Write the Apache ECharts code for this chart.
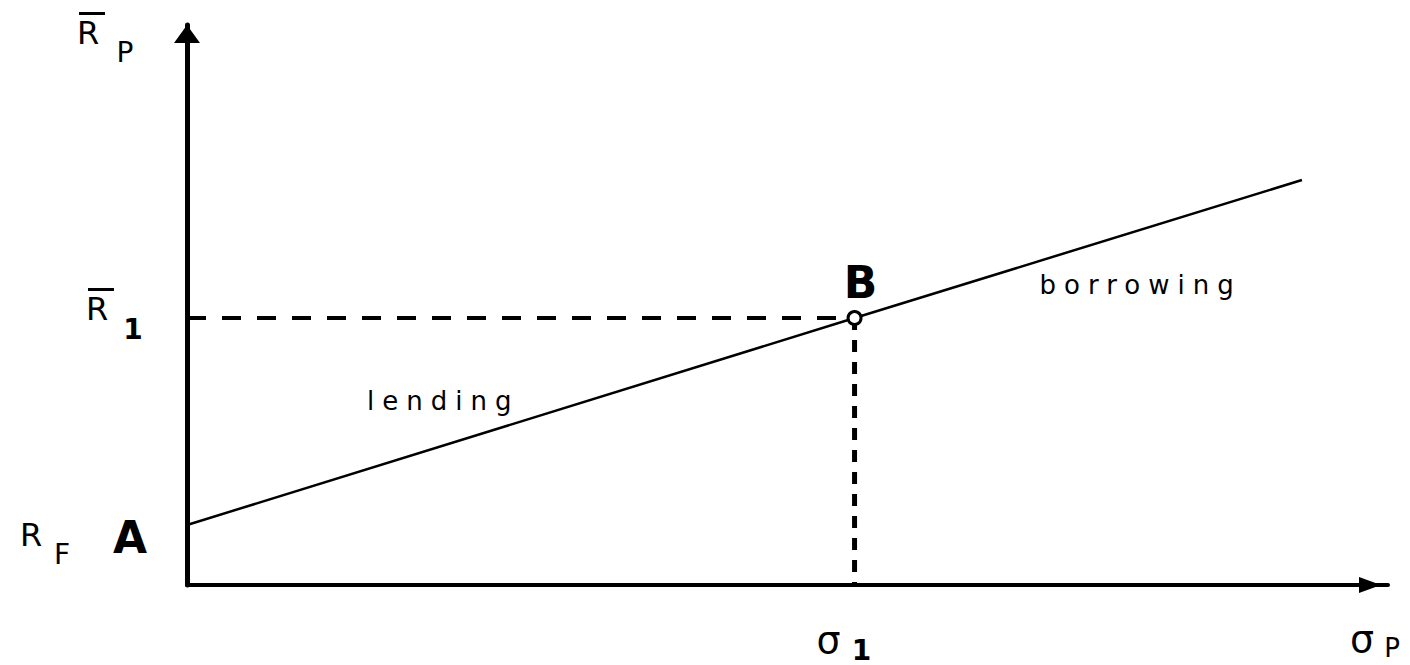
<!DOCTYPE html>
<html>
<head>
<meta charset="utf-8">
<script src="https://cdn.jsdelivr.net/npm/echarts@6/dist/echarts.min.js"></script>
<style>
html, body { margin: 0; padding: 0; background: #fff; }
#chart { width: 1410px; height: 665px; }
#chart text { letter-spacing: 8px; }
</style>
</head>
<body>
<div id="chart"></div>
<script>
// capital market line: risk (sigma) vs expected return
var sigmaP = [0, 6.67, 11.14];
var returnP = [0.6, 2.67, 4.05];
var sigmaMax = 12;
var returnMax = 5.6;
var segmentNames = ['lending', 'borrowing'];

var RF = returnP[0], R1 = returnP[1], sigma1 = sigmaP[1];
var font = 'DejaVu Sans';

function lab(pos, text, off, style) {
    return {
        value: pos,
        label: Object.assign({
            show: true, position: 'inside', formatter: text, offset: off,
            color: '#000', fontFamily: font, fontSize: 32, lineHeight: 24
        }, style || {})
    };
}

var sub = {fontSize: 28, lineHeight: 21};
var subBold = {fontSize: 28, lineHeight: 21, fontWeight: 'bold'};
// R with a bar over it: bar drawn as a token background
var rBar = {
    rich: {
        b: {width: 26, height: 3, lineHeight: 3, fontSize: 1, backgroundColor: '#000'},
        r: {fontFamily: font, fontSize: 32, lineHeight: 35, color: '#000'}
    }
};
var rBarText = '{b| }\n{r|R}';

var labels = [
    // R-bar P (axis name)
    lab([0, returnMax], rBarText, [-95, 6], rBar),
    lab([0, returnMax], 'P', [-58, 27], sub),
    // R-bar 1
    lab([0, R1], rBarText, [-86, -11], rBar),
    lab([0, R1], '1', [-50, 11], subBold),
    // R F
    lab([0, RF], 'R', [-152, 10]),
    lab([0, RF], 'F', [-121, 29], sub),
    // points
    lab([0, RF], 'A', [-53, 12], {fontSize: 44, lineHeight: 34, fontWeight: 'bold'}),
    lab([sigma1, R1], 'B', [10, -36], {fontSize: 44, lineHeight: 34, fontWeight: 'bold'}),
    // sigma 1 and sigma P
    lab([sigma1, 0], '\u03c3', [-22, 55], {fontSize: 38, lineHeight: 24}),
    lab([sigma1, 0], '1', [11, 65], subBold),
    lab([sigmaMax, 0], '\u03c3', [-22, 54], {fontSize: 38, lineHeight: 24}),
    lab([sigmaMax, 0], 'P', [8, 63], {fontSize: 26, lineHeight: 20}),
    // segment names
    lab([0, RF], segmentNames[0], [180, -124], {fontSize: 26, lineHeight: 30, align: 'left'}),
    lab([sigma1, R1], segmentNames[1], [185, -33], {fontSize: 26, lineHeight: 30, align: 'left'})
];

var chart = echarts.init(document.getElementById('chart'), null, {renderer: 'svg'});
var option = {
    animation: false,
    backgroundColor: '#fff',
    grid: {left: 187, right: 22, top: 25, bottom: 80},
    xAxis: {
        type: 'value', min: 0, max: sigmaMax,
        axisLine: {
            show: true, onZero: false,
            lineStyle: {color: '#000', width: 4},
            symbol: ['none', 'triangle'], symbolSize: [16, 22], symbolOffset: [0, -18]
        },
        axisTick: {show: false}, axisLabel: {show: false}, splitLine: {show: false}
    },
    yAxis: {
        type: 'value', min: 0, max: returnMax,
        axisLine: {
            show: true, onZero: false,
            lineStyle: {color: '#000', width: 5},
            symbol: ['none', 'triangle'], symbolSize: [26, 18], symbolOffset: [0, -9]
        },
        axisTick: {show: false}, axisLabel: {show: false}, splitLine: {show: false}
    },
    series: [
        {
            type: 'line', symbol: 'none', silent: true, z: 2,
            data: [[0, R1], [sigma1, R1]],
            lineStyle: {color: '#000', width: 4, type: [19, 16]}
        },
        {
            type: 'line', symbol: 'none', silent: true, z: 2,
            data: [[sigma1, R1], [sigma1, 0]],
            lineStyle: {color: '#000', width: 5, type: [12, 10]}
        },
        {
            type: 'line', symbol: 'none', silent: true, z: 3,
            data: sigmaP.map(function (s, i) { return [s, returnP[i]]; }),
            lineStyle: {color: '#000', width: 2.5}
        },
        {
            type: 'scatter', silent: true, z: 4,
            data: [[sigma1, R1]],
            symbol: 'circle', symbolSize: 13,
            itemStyle: {color: '#fff', borderColor: '#000', borderWidth: 3, opacity: 1}
        },
        {
            type: 'scatter', silent: true, z: 5, clip: false,
            symbolSize: 0,
            itemStyle: {opacity: 1},
            data: labels
        }
    ]
};
chart.setOption(option);
</script>
</body>
</html>
